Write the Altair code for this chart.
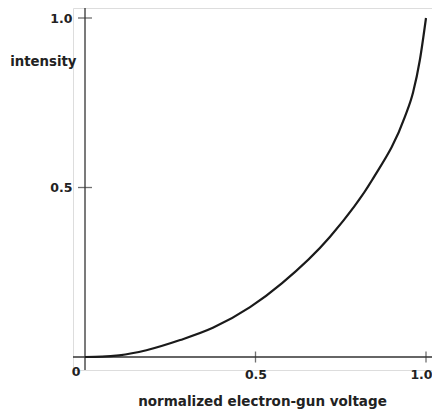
import altair as alt
import pandas as pd

# curve
voltage = [0.0, 0.05, 0.1, 0.18, 0.279, 0.375, 0.484, 0.578, 0.718, 0.842, 0.938, 0.962, 0.982, 1.0]
intensity = [0.0, 0.001, 0.005, 0.02, 0.05, 0.086, 0.147, 0.218, 0.354, 0.522, 0.708, 0.78, 0.876, 1.0]

x_ticks = [0.5, 1.0]
y_ticks = [0.5, 1.0]

XMIN, XMAX = -0.0352, 1.0176
YMIN, YMAX = -0.0383, 1.0295

FONT = "DejaVu Sans"
TXT = "#222222"

curve = pd.DataFrame({"v": voltage, "i": intensity})
xs = alt.Scale(domain=[XMIN, XMAX], nice=False, zero=False)
ys = alt.Scale(domain=[YMIN, YMAX], nice=False, zero=False)

line = alt.Chart(curve).mark_line(color="#1a1a1a", strokeWidth=2.2, interpolate="monotone", clip=False).encode(
    x=alt.X("v:Q", scale=xs, axis=alt.Axis(
        values=x_ticks, format=".1f", domain=False, ticks=False, grid=False,
        labelFont=FONT, labelFontSize=12.5, labelFontWeight="bold", labelColor=TXT, labelPadding=-2,
        labelOffset={"condition": {"test": "datum.value >= 1", "value": -5}, "value": 0},
        title="normalized electron-gun voltage", titleFont=FONT, titleFontSize=13.5, titleFontWeight="bold",
        titleColor=TXT, titleX=189, titleY=35, titleAlign="center", titleBaseline="alphabetic")),
    y=alt.Y("i:Q", scale=ys, axis=alt.Axis(
        values=y_ticks, format=".1f", domain=False, ticks=False, grid=False,
        labelFont=FONT, labelFontSize=12.5, labelFontWeight="bold", labelColor=TXT, labelPadding=1,
        title="intensity", titleAngle=0, titleFont=FONT, titleFontSize=13.3, titleFontWeight="bold",
        titleColor=TXT, titleX=3, titleY=53, titleAlign="right", titleBaseline="middle")),
)

yaxis = alt.Chart(pd.DataFrame({"v": [0.0], "a": [YMIN], "b": [YMAX]})).mark_rule(color="#333333", strokeWidth=1.3).encode(
    x=alt.X("v:Q", scale=xs), y=alt.Y("a:Q", scale=ys), y2="b:Q")
xaxis = alt.Chart(pd.DataFrame({"i": [0.0], "a": [XMIN], "b": [XMAX]})).mark_rule(color="#333333", strokeWidth=1.3).encode(
    y=alt.Y("i:Q", scale=ys), x=alt.X("a:Q", scale=xs), x2="b:Q")

xt = alt.Chart(pd.DataFrame({"v": x_ticks, "i": [0.0] * len(x_ticks)})).mark_tick(
    orient="vertical", size=11, thickness=1.3, color="#333333").encode(
    x=alt.X("v:Q", scale=xs), y=alt.Y("i:Q", scale=ys))
yt = alt.Chart(pd.DataFrame({"v": [0.0] * len(y_ticks), "i": y_ticks})).mark_tick(
    orient="horizontal", size=14, thickness=1.3, color="#333333").encode(
    x=alt.X("v:Q", scale=xs), y=alt.Y("i:Q", scale=ys))

zero = alt.Chart(pd.DataFrame({"v": [-0.026], "i": [-0.044], "t": ["0"]})).mark_text(
    font=FONT, fontSize=12.5, fontWeight="bold", color=TXT, baseline="middle", align="center").encode(
    x=alt.X("v:Q", scale=xs), y=alt.Y("i:Q", scale=ys), text="t:N")

chart = alt.layer(yaxis, xaxis, xt, yt, line, zero).properties(
    width=359, height=362,
    autosize=alt.AutoSizeParams(type="none"),
    padding={"left": 65, "top": 0, "right": 0, "bottom": 42},
).configure_view(stroke=None).configure(background="white")

chart.save("out.html", embed_options={"renderer": "svg", "actions": False})
